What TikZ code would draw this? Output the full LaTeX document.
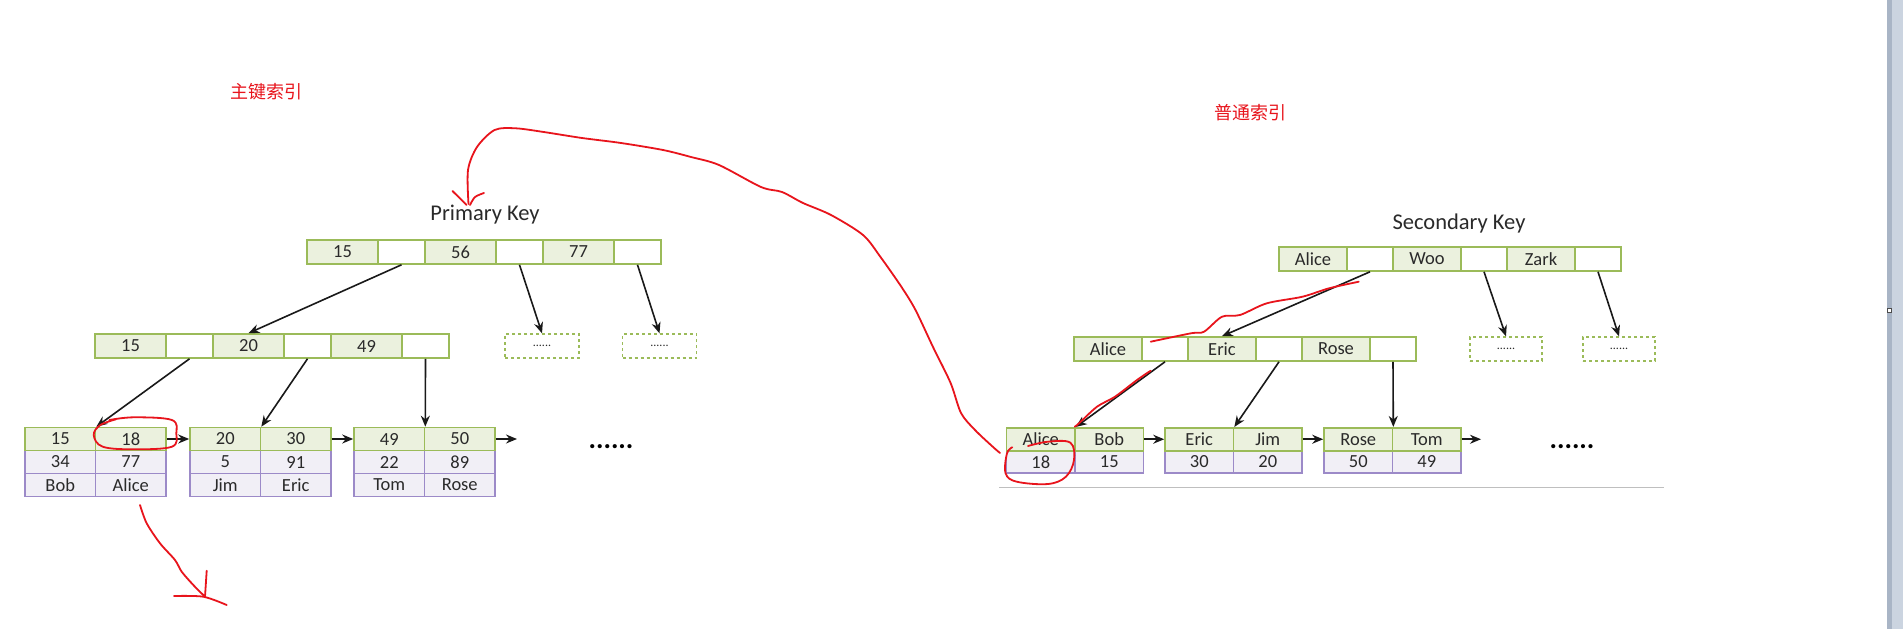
\documentclass[tikz,border=0pt]{standalone}
\usepackage{fontspec}
\setmainfont{Carlito}
\newfontfamily\cjk{Noto Sans CJK SC}
\usetikzlibrary{arrows.meta}
\definecolor{keygreen}{HTML}{9BBB59}
\definecolor{keyfill}{HTML}{EBF1DE}
\definecolor{rowpurple}{HTML}{9C8AC8}
\definecolor{rowfill}{HTML}{F1EFF6}
\definecolor{redpen}{HTML}{E8141C}
\definecolor{txt}{HTML}{2A2A2A}
\definecolor{scrollbar}{HTML}{CBD4E0}
\definecolor{scrolledge}{HTML}{A9B5C6}
\begin{document}
\begin{tikzpicture}[x=1pt,y=-1pt,>={Stealth[length=11pt,width=9pt]},
  keycell/.style={draw=keygreen,fill=keyfill,line width=1.6pt,inner sep=0pt,
    minimum height=24pt,minimum width=#1,text=txt,font=\fontsize{18.5}{20}\selectfont},
  keycell/.default=71pt,
  ptrcell/.style={keycell=#1,fill=white},
  ptrcell/.default=47pt,
  leafcell/.style={keycell=#1,minimum height=23pt},
  valcell/.style={keycell=#1,draw=rowpurple,fill=rowfill,minimum height=23pt},
  dashcell/.style={keycell=74pt,fill=white,dashed,line width=1.3pt,font=\fontsize{12}{12}\selectfont},
  heading/.style={text=txt,font=\fontsize{22.5}{24}\selectfont},
  moredots/.style={text=black,inner sep=0pt,font=\bfseries\fontsize{28}{28}\selectfont},
  link/.style={->,line width=1.6pt,draw=black!90},
  handdrawn/.style={redpen,line width=1.8pt,line cap=round,line join=round},
  redlabel/.style={text=redpen,font=\cjk\fontsize{18}{20}\selectfont}]
\useasboundingbox[fill=white] (0,0) rectangle (1903,629);
\fill[scrollbar] (1887,0) rectangle (1903,629);
\fill[scrolledge] (1887,0) rectangle (1892,629);
\draw[fill=white,draw=black!70,line width=0.8pt] (1887.5,308) rectangle (1891.5,312);

\node[redlabel](pklabel) at (266,92){主键索引};
\node[redlabel](sklabel) at (1250,113){普通索引};

% primary key tree
\node[heading](pktitle) at (485,215){Primary Key};
\node[keycell](r1) at (342.5,252){15};
\node[ptrcell](rp1) at (401.5,252){};
\node[keycell](r2) at (460.5,252){56};
\node[ptrcell](rp2) at (519.5,252){};
\node[keycell](r3) at (578.5,252){77};
\node[ptrcell](rp3) at (637.5,252){};

\node[keycell](m1) at (130.5,346){15};
\node[ptrcell](mp1) at (189.5,346){};
\node[keycell](m2) at (248.5,346){20};
\node[ptrcell](mp2) at (307.5,346){};
\node[keycell](m3) at (366.5,346){49};
\node[ptrcell](mp3) at (425.5,346){};
\node[dashcell](md1) at (542,346){......};
\node[dashcell](md2) at (659.5,346){......};

\node[valcell=70.5pt](pl1a2) at (60.25,462){34};
\node[valcell=70.5pt](pl1b2) at (130.75,462){77};
\node[valcell=70.5pt](pl1a3) at (60.25,485){Bob};
\node[valcell=70.5pt](pl1b3) at (130.75,485){Alice};
\node[leafcell=70.5pt](pl1a) at (60.25,439){15};
\node[leafcell=70.5pt](pl1b) at (130.75,439){18};

\node[valcell=70.5pt](pl2a2) at (225.25,462){5};
\node[valcell=70.5pt](pl2b2) at (295.75,462){91};
\node[valcell=70.5pt](pl2a3) at (225.25,485){Jim};
\node[valcell=70.5pt](pl2b3) at (295.75,485){Eric};
\node[leafcell=70.5pt](pl2a) at (225.25,439){20};
\node[leafcell=70.5pt](pl2b) at (295.75,439){30};

\node[valcell=70.5pt](pl3a2) at (389.25,462){22};
\node[valcell=70.5pt](pl3b2) at (459.75,462){89};
\node[valcell=70.5pt](pl3a3) at (389.25,485){Tom};
\node[valcell=70.5pt](pl3b3) at (459.75,485){Rose};
\node[leafcell=70.5pt](pl3a) at (389.25,439){49};
\node[leafcell=70.5pt](pl3b) at (459.75,439){50};

\coordinate(pend) at (517,439);
\node[moredots](pdots) at (611,447){......};

\draw[link](rp1.south)--(m2.north);
\draw[link](rp2.south)--(md1.north);
\draw[link](rp3.south)--(md2.north);
\draw[link](mp1.south)--(pl1a.north east);
\draw[link](mp2.south)--(pl2a.north east);
\draw[link](mp3.south)--(pl3a.north east);
\draw[link](pl1b.east)--(pl2a.west);
\draw[link](pl2b.east)--(pl3a.west);
\draw[link](pl3b.east)--(pend);

% secondary key tree
\node[heading](sktitle) at (1459,223){Secondary Key};
\node[keycell=68pt](sr1) at (1313,259){Alice};
\node[ptrcell=46pt](srp1) at (1370,259){};
\node[keycell=68pt](sr2) at (1427,259){Woo};
\node[ptrcell=46pt](srp2) at (1484,259){};
\node[keycell=68pt](sr3) at (1541,259){Zark};
\node[ptrcell=46pt](srp3) at (1598,259){};

\node[keycell=68pt](sm1) at (1108,349){Alice};
\node[ptrcell=46pt](smp1) at (1165,349){};
\node[keycell=68pt](sm2) at (1222,349){Eric};
\node[ptrcell=46pt](smp2) at (1279,349){};
\node[keycell=68pt](sm3) at (1336,349){Rose};
\node[ptrcell=46pt](smp3) at (1393,349){};
\node[dashcell,minimum width=72pt](smd1) at (1506,349){......};
\node[dashcell,minimum width=72pt](smd2) at (1619,349){......};

\node[valcell=68.5pt](sl1a2) at (1040.75,461.75){18};
\node[valcell=68.5pt](sl1b2) at (1109.25,461.75){15};
\node[leafcell=68.5pt](sl1a) at (1040.75,439.25){Alice};
\node[leafcell=68.5pt](sl1b) at (1109.25,439.25){Bob};

\node[valcell=68.5pt](sl2a2) at (1199.25,461.75){30};
\node[valcell=68.5pt](sl2b2) at (1267.75,461.75){20};
\node[leafcell=68.5pt](sl2a) at (1199.25,439.25){Eric};
\node[leafcell=68.5pt](sl2b) at (1267.75,439.25){Jim};

\node[valcell=68.5pt](sl3a2) at (1358.25,461.75){50};
\node[valcell=68.5pt](sl3b2) at (1426.75,461.75){49};
\node[leafcell=68.5pt](sl3a) at (1358.25,439.25){Rose};
\node[leafcell=68.5pt](sl3b) at (1426.75,439.25){Tom};

\coordinate(send) at (1481,439.25);
\node[moredots](sdots) at (1572,447){......};
\draw[black!25,line width=0.8pt](999,487)--(1664,487);

\draw[link](srp1.south)--(sm2.north);
\draw[link](srp2.south)--(smd1.north);
\draw[link](srp3.south)--(smd2.north);
\draw[link](smp1.south)--(sl1a.north east);
\draw[link](smp2.south)--(sl2a.north east);
\draw[link](smp3.south)--(sl3a.north east);
\draw[link](sl1b.east)--(sl2a.west);
\draw[link](sl2b.east)--(sl3a.west);
\draw[link](sl3b.east)--(send);

% red pen marks
\draw[handdrawn] plot[smooth,tension=0.5] coordinates {(1000,453) (992.7,446.7) (975,430) (961,413) (950.6,383) (933,347) (915.5,310) (901.5,287) (880.5,257) (863,235) (831,215) (803,203) (782,192) (761,187) (719,165) (691,157) (663,150) (621,143) (582,138) (543.7,132) (515.7,128.3) (494.6,130) (477,147) (468,170) (468.5,204)};
\draw[handdrawn](452.5,191)--(466.6,205);
\draw[handdrawn] plot[smooth] coordinates {(470,205) (475,197) (484,193)};

\draw[handdrawn] plot[smooth,tension=0.6] coordinates {(109.4,420) (134,417.3) (171.9,420) (176.3,433.3) (171.9,446.7) (134,449.3) (102.7,446.7) (93.75,435) (100.4,425) (116,419.3)};
\draw[handdrawn] plot[smooth,tension=0.6] coordinates {(1028,446) (1048,441.7) (1070.4,442.7) (1074,460) (1065.9,476.7) (1048,484) (1016.8,481.7) (1005.6,473.3) (1007,453.3) (1012.3,447.3)};

\draw[handdrawn] plot[smooth,tension=0.5] coordinates {(1150.7,341.7) (1190.9,333.3) (1204,331.7) (1222,316.7) (1240,315) (1266.8,303.3) (1302.5,296.7) (1329,288.3) (1358.75,281.7)};
\draw[handdrawn] plot[smooth,tension=0.5] coordinates {(1150.7,370.7) (1137,380) (1115,396.7) (1097,406.7) (1079,423.3) (1074.8,426.7)};

\draw[handdrawn] plot[smooth,tension=0.5] coordinates {(140,505) (146.7,523.3) (160,543.3) (175,560) (181.7,571.7) (193.3,585) (205,596.7)};
\draw[handdrawn] plot[smooth] coordinates {(174,596) (203.3,596.7) (226.7,605)};
\draw[handdrawn](206.7,570.7)--(205,596.7);
\end{tikzpicture}
\end{document}
